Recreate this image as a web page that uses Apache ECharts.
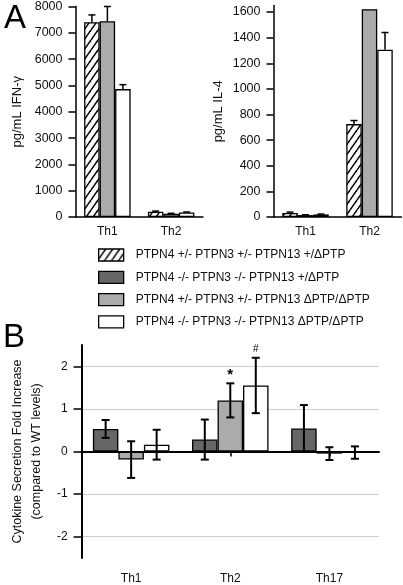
<!DOCTYPE html>
<html><head><meta charset="utf-8">
<script src="https://cdn.jsdelivr.net/npm/echarts@6/dist/echarts.min.js"></script>
<style>html,body{margin:0;padding:0;background:#fff}#c{width:403px;height:585px}</style>
</head><body><div id="c"></div>
<script>
// ---------- data ----------
const legendNames = [
  'PTPN4 +/- PTPN3 +/- PTPN13 +/\u0394PTP',
  'PTPN4 -/- PTPN3 -/- PTPN13 +/\u0394PTP',
  'PTPN4 +/- PTPN3 +/- PTPN13 \u0394PTP/\u0394PTP',
  'PTPN4 -/- PTPN3 -/- PTPN13 \u0394PTP/\u0394PTP'
];
const catA = ['Th1', 'Th2'];
const catB = ['Th1', 'Th2', 'Th17'];

// Panel A left: IFN-gamma (pg/mL)
const ifnHatched = [7400, 200];
const ifnHatchedErr = [280, 25];
const ifnGray = [7440, 120];
const ifnGrayErr = [560, 20];
const ifnWhite = [4860, 175];
const ifnWhiteErr = [170, 15];

// Panel A right: IL-4 (pg/mL)
const il4Hatched = [32, 725];
const il4HatchedErr = [6, 28];
const il4Gray = [15, 1622];
const il4GrayErr = [2, 0];
const il4White = [20, 1305];
const il4WhiteErr = [3, 135];
const il4Ticks = [0, 200, 400, 600, 800, 1000, 1200, 1400, 1600];

// Panel B: fold increase
const foldDark = [0.53, 0.28, 0.54];
const foldDarkErr = [0.21, 0.47, 0.55];
const foldLight = [-0.19, 1.2, -0.05];
const foldLightErr = [0.43, 0.40, 0.15];
const foldWhite = [0.16, 1.55, -0.025];
const foldWhiteErr = [0.35, 0.65, 0.145];
const foldLightMarks = ['', '*', ''];
const foldWhiteMarks = ['', '#', ''];
const foldTicks = [-2, -1, 0, 1, 2];

// ---------- styles ----------
const FONT = '"Liberation Sans", Arial, sans-serif';
const hatch = (function () {
  const w = 7, h = 10;
  const c = document.createElement('canvas');
  c.width = w; c.height = h;
  const ctx = c.getContext('2d');
  ctx.fillStyle = '#fff'; ctx.fillRect(0, 0, w, h);
  ctx.strokeStyle = '#000'; ctx.lineWidth = 1.5;
  for (let k = -1; k <= 1; k++) {
    ctx.beginPath(); ctx.moveTo(k * w, h); ctx.lineTo(k * w + w, 0); ctx.stroke();
  }
  return c;
})();
const COL_HATCH = { image: hatch, repeat: 'repeat' };
const COL_DARK = '#666666';
const COL_LIGHT = '#ababab';
const COL_WHITE = '#ffffff';

function errSeries(name, xi, yi, vals, errs, k, n, bw, opts) {
  opts = opts || {};
  return {
    type: 'custom', name: name + '_err', xAxisIndex: xi, yAxisIndex: yi, z: 5,
    silent: true, legendHoverLink: false,
    data: vals.map((v, i) => [i, v, errs[i]]),
    renderItem: function (params, api) {
      const ci = api.value(0), v = api.value(1), e = api.value(2);
      const mark = opts.marks ? opts.marks[params.dataIndex] : '';
      const base = api.coord([ci, v]);
      const top = api.coord([ci, v + e]);
      const bot = api.coord([ci, opts.oneSided ? v : v - e]);
      const x = base[0] + (k - (n - 1) / 2) * bw;
      const cw = opts.cap || 3.5;
      const lw = opts.lw || 1.5;
      const st = { stroke: '#000', lineWidth: lw };
      const ch = [];
      if (e > 0) {
        ch.push({ type: 'line', shape: { x1: x, y1: top[1], x2: x, y2: bot[1] }, style: st });
        ch.push({ type: 'line', shape: { x1: x - cw, y1: top[1], x2: x + cw, y2: top[1] }, style: st });
        if (!opts.oneSided) ch.push({ type: 'line', shape: { x1: x - cw, y1: bot[1], x2: x + cw, y2: bot[1] }, style: st });
      }
      if (mark) {
        ch.push({ type: 'text', style: { text: mark, x: x, y: top[1] - (mark === '*' ? 1 : 4),
          align: 'center', verticalAlign: 'bottom', fill: '#000',
          font: (mark === '*' ? 'bold 15px ' : '10px ') + FONT } });
      }
      return { type: 'group', children: ch };
    }
  };
}

function bar(name, xi, yi, data, color, bw, extra) {
  return Object.assign({
    type: 'bar', name: name, xAxisIndex: xi, yAxisIndex: yi, data: data,
    barWidth: bw, barGap: '0%', z: 2,
    itemStyle: { color: color, borderColor: '#000', borderWidth: 1.3 }
  }, extra || {});
}

const BW_A = 15.5, BW_B = 25.5;
const axisLineBlack = { show: true, lineStyle: { color: '#000', width: 1.5 } };
const plain = function (v) { return String(v); };
const lbl = { color: '#111', fontFamily: FONT, fontSize: 12 };
const tickStyle = { color: '#000', width: 1.5 };

const option = {
  animation: false,
  backgroundColor: '#fff',
  textStyle: { fontFamily: FONT },
  grid: [
    { left: 75.5, top: 6, width: 127.5, height: 211 },
    { left: 273.5, top: 5.6, width: 128, height: 211.4 },
    { left: 76, top: 345, width: 303, height: 213 }
  ],
  xAxis: [
    { gridIndex: 0, type: 'category', data: catA, axisLine: axisLineBlack, axisTick: { show: false },
      axisLabel: Object.assign({}, lbl, { margin: 9 }) },
    { gridIndex: 1, type: 'category', data: catA, axisLine: axisLineBlack, axisTick: { show: false },
      axisLabel: Object.assign({}, lbl, { margin: 9 }) },
    { gridIndex: 2, type: 'category', data: catB, axisLine: { show: true, lineStyle: { color: '#000', width: 2 } },
      axisTick: { show: true, alignWithLabel: true, length: 5, lineStyle: tickStyle },
      axisLabel: Object.assign({}, lbl, { margin: 15 }) }
  ],
  yAxis: [
    { gridIndex: 0, type: 'value', min: 0, max: 8000, interval: 1000,
      axisLine: axisLineBlack, axisTick: { show: true, length: 7, lineStyle: tickStyle },
      axisLabel: Object.assign({}, lbl, { margin: 13, fontSize: 12.5, formatter: plain }), splitLine: { show: false },
      name: 'pg/mL IFN-\u03b3', nameLocation: 'middle', nameGap: 51.5, nameRotate: 90,
      nameTextStyle: { fontSize: 13, color: '#111', fontFamily: FONT } },
    { gridIndex: 1, type: 'value', min: 0, max: 1650,
      axisLine: axisLineBlack,
      axisTick: { show: true, length: 7, customValues: il4Ticks, lineStyle: tickStyle },
      axisLabel: Object.assign({}, lbl, { margin: 13, fontSize: 12.5, customValues: il4Ticks, formatter: plain }),
      splitLine: { show: false },
      name: 'pg/mL IL-4', nameLocation: 'middle', nameGap: 48.5, nameRotate: 90,
      nameTextStyle: { fontSize: 13, color: '#111', fontFamily: FONT } },
    { gridIndex: 2, type: 'value', min: -2.5, max: 2.5,
      axisLine: { show: true, lineStyle: { color: '#000', width: 2 } },
      axisTick: { show: true, length: 8, customValues: foldTicks, lineStyle: tickStyle },
      axisLabel: Object.assign({}, lbl, { margin: 14, customValues: foldTicks, formatter: plain }),
      splitLine: { show: true, lineStyle: { color: '#cfcfcf', width: 1.2 } },
      name: 'Cytokine Secretion Fold Increase\n(compared to WT levels)', nameLocation: 'middle', nameGap: 32, nameRotate: 90,
      nameTextStyle: { fontSize: 12.5, lineHeight: 19, color: '#111', fontFamily: FONT } }
  ],
  legend: {
    orient: 'vertical', left: 98, top: 248, padding: 0, itemWidth: 25, itemHeight: 12, itemGap: 8.3,
    icon: 'rect', selectedMode: false,
    data: legendNames,
    itemStyle: { borderColor: '#000', borderWidth: 1.3 },
    textStyle: { fontSize: 12, lineHeight: 14, color: '#111', fontFamily: FONT, padding: [0, 0, 0, 7] }
  },
  graphic: [
    { type: 'text', left: 4, top: 2, style: { text: 'A', font: '33px ' + FONT, fill: '#000' } },
    { type: 'text', left: 3, top: 321, style: { text: 'B', font: '33px ' + FONT, fill: '#000' } }
  ],
  series: [
    bar(legendNames[0], 0, 0, ifnHatched, COL_HATCH, BW_A),
    bar(legendNames[2], 0, 0, ifnGray, COL_LIGHT, BW_A),
    bar(legendNames[3], 0, 0, ifnWhite, COL_WHITE, BW_A),
    errSeries('a0', 0, 0, ifnHatched, ifnHatchedErr, 0, 3, BW_A, { oneSided: true }),
    errSeries('a1', 0, 0, ifnGray, ifnGrayErr, 1, 3, BW_A, { oneSided: true }),
    errSeries('a2', 0, 0, ifnWhite, ifnWhiteErr, 2, 3, BW_A, { oneSided: true }),

    bar(legendNames[0], 1, 1, il4Hatched, COL_HATCH, BW_A),
    bar(legendNames[2], 1, 1, il4Gray, COL_LIGHT, BW_A),
    bar(legendNames[3], 1, 1, il4White, COL_WHITE, BW_A),
    errSeries('b0', 1, 1, il4Hatched, il4HatchedErr, 0, 3, BW_A, { oneSided: true }),
    errSeries('b1', 1, 1, il4Gray, il4GrayErr, 1, 3, BW_A, { oneSided: true }),
    errSeries('b2', 1, 1, il4White, il4WhiteErr, 2, 3, BW_A, { oneSided: true }),

    bar(legendNames[1], 2, 2, foldDark, COL_DARK, BW_B, {
      markLine: { silent: true, symbol: 'none', label: { show: false },
        lineStyle: { color: '#000', width: 2, type: 'solid' }, data: [{ yAxis: 0 }] } }),
    bar(legendNames[2], 2, 2, foldLight, COL_LIGHT, BW_B),
    bar(legendNames[3], 2, 2, foldWhite, COL_WHITE, BW_B),
    errSeries('c0', 2, 2, foldDark, foldDarkErr, 0, 3, BW_B, { cap: 4, lw: 2 }),
    errSeries('c1', 2, 2, foldLight, foldLightErr, 1, 3, BW_B, { cap: 4, lw: 2, marks: foldLightMarks }),
    errSeries('c2', 2, 2, foldWhite, foldWhiteErr, 2, 3, BW_B, { cap: 4, lw: 2, marks: foldWhiteMarks })
  ]
};
const chart = echarts.init(document.getElementById('c'), null, { renderer: 'canvas' });
chart.setOption(option);
</script>
</body></html>
